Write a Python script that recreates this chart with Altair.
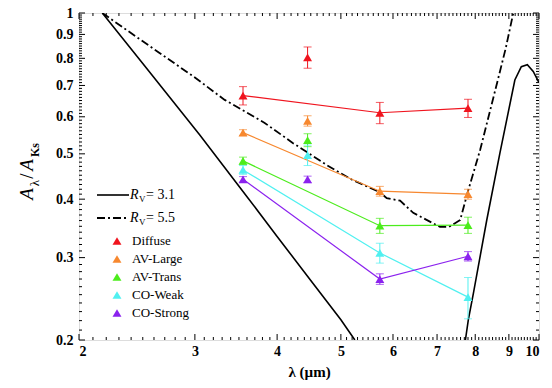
import altair as alt
import pandas as pd

SERIF = "Liberation Serif"

# ---- data -------------------------------------------------------------
bands = [3.55, 4.45, 5.73, 7.80]
connected = [True, False, True, True]

groups = ["Diffuse", "AV-Large", "AV-Trans", "CO-Weak", "CO-Strong"]
colors = ["#f0141e", "#f7882f", "#4cec1c", "#50f0f0", "#8b22ee"]

ratio_diffuse = [0.666, 0.804, 0.612, 0.626]
ratio_avlarge = [0.555, 0.588, 0.416, 0.410]
ratio_avtrans = [0.483, 0.535, 0.351, 0.352]
ratio_coweak = [0.462, 0.497, 0.307, 0.247]
ratio_costrong = [0.441, 0.441, 0.270, 0.302]

err_diffuse = [0.030, 0.042, 0.032, 0.028]
err_avlarge = [0.008, 0.015, 0.010, 0.010]
err_avtrans = [0.009, 0.017, 0.013, 0.014]
err_coweak = [0.010, 0.025, 0.015, 0.025]
err_costrong = [0.006, 0.007, 0.007, 0.007]

# extinction curves (A_lambda / A_Ks)
rv31_a_lam = [2.17, 2.5, 3.05, 3.6, 4.0, 4.5, 5.0, 5.25]
rv31_a_val = [1.0, 0.78, 0.549, 0.405, 0.333, 0.268, 0.221, 0.2]
rv31_b_lam = [7.73, 7.81, 7.95, 8.33, 8.72, 9.19, 9.4, 9.6, 9.8, 10.0]
rv31_b_val = [0.2, 0.221, 0.252, 0.361, 0.501, 0.719, 0.768, 0.775, 0.75, 0.71]

rv55_lam = [2.17, 2.5, 3.0, 3.33, 3.83, 4.23, 4.76, 5.2, 5.73, 5.87, 6.15,
            6.44, 7.07, 7.3, 7.59, 7.8, 8.14, 8.66, 8.9, 9.14]
rv55_val = [1.0, 0.87, 0.728, 0.652, 0.582, 0.527, 0.473, 0.44, 0.414, 0.402,
            0.397, 0.374, 0.349, 0.349, 0.361, 0.416, 0.51, 0.72, 0.84, 1.0]

x_major = [2, 3, 4, 5, 6, 7, 8, 9, 10]
x_minor = [round(2 + 0.1 * i, 1) for i in range(1, 80) if i % 10 != 0]
y_major = [0.2, 0.3, 0.4, 0.5, 0.6, 0.7, 0.8, 0.9, 1.0]
y_minor = [round(0.2 + 0.01 * i, 2) for i in range(1, 80) if i % 10 != 0]

# ---- tables -----------------------------------------------------------
ratios = [ratio_diffuse, ratio_avlarge, ratio_avtrans, ratio_coweak, ratio_costrong]
errs = [err_diffuse, err_avlarge, err_avtrans, err_coweak, err_costrong]
rows = []
for g, rs, es in zip(groups, ratios, errs):
    for lam, c, r, e in zip(bands, connected, rs, es):
        rows.append({"lam": lam, "val": r, "lo": r - e, "hi": r + e,
                     "group": g, "conn": c})
pts = pd.DataFrame(rows)
caps = pd.concat([
    pts.assign(cap=pts["lo"]), pts.assign(cap=pts["hi"])
], ignore_index=True)

solid = pd.DataFrame({
    "lam": rv31_a_lam + rv31_b_lam,
    "val": rv31_a_val + rv31_b_val,
    "seg": ["a"] * len(rv31_a_lam) + ["b"] * len(rv31_b_lam),
})
dashdot = pd.DataFrame({"lam": rv55_lam, "val": rv55_val})

W, H = 460, 327

xscale = alt.Scale(type="log", domain=[2, 10], nice=False, zero=False)
yscale = alt.Scale(type="log", domain=[0.2, 1.0], nice=False, zero=False)
xaxis = alt.Axis(values=x_major, format="d", ticks=False, tickSize=0, domain=False,
                 grid=False, labelFont=SERIF, labelFontWeight="bold",
                 labelFontSize=14, labelColor="black", labelPadding=4,
                 title="λ (µm)", titleFont=SERIF, titleFontWeight="bold",
                 titleFontSize=15, titleColor="black", titlePadding=6)
yaxis = alt.Axis(values=y_major, ticks=False, tickSize=0, domain=False, grid=False,
                 labelExpr="datum.value >= 0.999 ? '1' : format(datum.value, '.1f')",
                 labelFont=SERIF, labelFontWeight="bold", labelFontSize=14,
                 labelColor="black", labelPadding=6, title=None)


def X(f):
    return alt.X(f"{f}:Q", scale=xscale, axis=xaxis)


def Y(f):
    return alt.Y(f"{f}:Q", scale=yscale, axis=yaxis)


color = alt.Color("group:N", scale=alt.Scale(domain=groups, range=colors), legend=None)

layers = []

# curves
layers.append(alt.Chart(solid).mark_line(color="black", strokeWidth=1.6, clip=True)
              .encode(x=X("lam"), y=Y("val"), detail="seg:N"))
layers.append(alt.Chart(dashdot).mark_line(color="black", strokeWidth=1.8, clip=True,
                                           strokeDash=[8, 3, 2, 3])
              .encode(x=X("lam"), y=Y("val")))

# connecting lines
layers.append(alt.Chart(pts).transform_filter("datum.conn")
              .mark_line(strokeWidth=1.2)
              .encode(x=X("lam"), y=Y("val"), color=color, detail="group:N"))
# error bars
layers.append(alt.Chart(pts).mark_rule(strokeWidth=1)
              .encode(x=X("lam"), y=Y("lo"), y2="hi:Q", color=color))
layers.append(alt.Chart(caps).mark_tick(orient="horizontal", size=8, thickness=1)
              .encode(x=X("lam"), y=Y("cap"), color=color))
# markers
layers.append(alt.Chart(pts).mark_point(shape="triangle-up", filled=True, size=80,
                                        opacity=1)
              .encode(x=X("lam"), y=Y("val"), color=color))


# axis ticks (inward, on all four sides)
def tick_layers(vals, length, ch):
    df = pd.DataFrame({"t": vals})
    out = []
    if ch == "x":
        out.append(alt.Chart(df).mark_rule(color="black", strokeWidth=1)
                   .encode(x=X("t"), y=alt.value(H), y2=alt.value(H - length)))
        out.append(alt.Chart(df).mark_rule(color="black", strokeWidth=1)
                   .encode(x=X("t"), y=alt.value(0), y2=alt.value(length)))
    else:
        out.append(alt.Chart(df).mark_rule(color="black", strokeWidth=1)
                   .encode(y=Y("t"), x=alt.value(0), x2=alt.value(length)))
        out.append(alt.Chart(df).mark_rule(color="black", strokeWidth=1)
                   .encode(y=Y("t"), x=alt.value(W), x2=alt.value(W - length)))
    return out


layers += tick_layers(x_major, 6, "x")
layers += tick_layers(x_minor, 3, "x")
layers += tick_layers(y_major, 6, "y")
layers += tick_layers(y_minor, 3, "y")

dummy = pd.DataFrame({"d": [0]})


def txt(s, x, y, size, angle=0, **kw):
    opts = dict(text=s, font=SERIF, fontSize=size, baseline="middle", color="black")
    if angle:
        opts["angle"] = angle
        opts["align"] = "center"
    else:
        opts["align"] = "left"
    opts.update(kw)
    return alt.Chart(dummy).mark_text(**opts).encode(x=alt.value(x), y=alt.value(y))


# y-axis title  A_λ / A_Ks
layers += [
    txt("A", -52, 181, 19, angle=270, fontStyle="italic"),
    txt("λ", -44, 170, 13, angle=270),
    txt("/", -52, 163, 19, angle=270),
    txt("A", -52, 152, 19, angle=270, fontStyle="italic"),
    txt("Ks", -44, 137, 12, angle=270, fontWeight="bold"),
]

# legend
leg_x0, leg_x1 = 18, 50
layers.append(alt.Chart(dummy).mark_rule(color="black", strokeWidth=1.6)
              .encode(x=alt.value(leg_x0), x2=alt.value(leg_x1), y=alt.value(182)))
layers.append(alt.Chart(dummy).mark_rule(color="black", strokeWidth=1.8,
                                         strokeDash=[8, 3, 2, 3])
              .encode(x=alt.value(leg_x0), x2=alt.value(leg_x1), y=alt.value(205)))
for yy, lab in [(182, "= 3.1"), (205, "= 5.5")]:
    layers.append(txt("R", 51, yy, 14, fontStyle="italic"))
    layers.append(txt("V", 60, yy + 4, 9))
    layers.append(txt(lab, 67, yy, 14))

for i, (g, c) in enumerate(zip(groups, colors)):
    yy = 228 + 18 * i
    layers.append(alt.Chart(dummy).mark_point(shape="triangle-up", filled=True,
                                              size=80, opacity=1, color=c)
                  .encode(x=alt.value(38), y=alt.value(yy)))
    layers.append(txt(g, 53, yy, 13))

chart = alt.layer(*layers).properties(
    width=W, height=H,
    autosize=alt.AutoSizeParams(type="none"),
    padding={"left": 71, "top": 5, "right": 5, "bottom": 40},
).configure_view(stroke="black", strokeWidth=1.5).configure(background="white")

chart.save("out.html", embed_options={"renderer": "svg", "actions": False})
